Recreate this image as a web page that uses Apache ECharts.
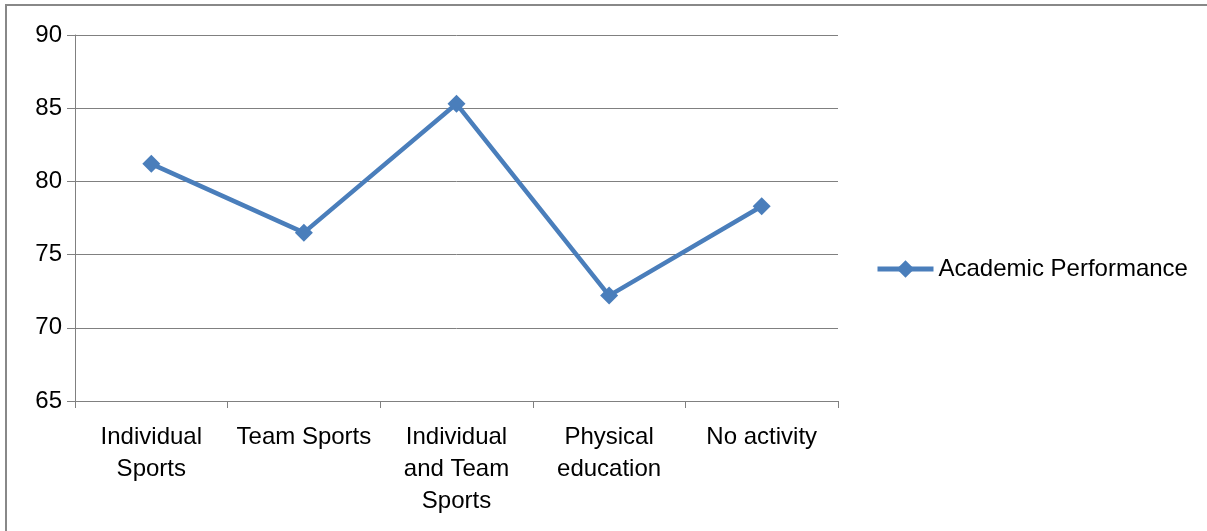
<!DOCTYPE html>
<html>
<head>
<meta charset="utf-8">
<script src="https://cdn.jsdelivr.net/npm/echarts@6/dist/echarts.min.js"></script>
<style>
html,body{margin:0;padding:0;background:#fff;overflow:hidden;}
#frame{position:absolute;left:5px;top:4px;width:1220px;height:560px;border-top:2px solid #888;border-left:2px solid #888;box-sizing:border-box;pointer-events:none;z-index:2;}
#chart{position:absolute;left:0;top:0;width:1207px;height:531px;}
</style>
</head>
<body>
<div id="chart"></div>
<div id="frame"></div>
<script>
const categories = ["Individual\nSports", "Team Sports", "Individual\nand Team\nSports", "Physical\neducation", "No activity"];
const seriesName = "Academic Performance";
const values = [81.2, 76.5, 85.3, 72.2, 78.3];
const yTicks = { min: 65, max: 90, interval: 5 };

const FONT = "'Liberation Sans', Arial, sans-serif";
const chart = echarts.init(document.getElementById('chart'), null, { renderer: 'canvas' });
chart.setOption({
  animation: false,
  backgroundColor: '#ffffff',
  grid: { left: 75, top: 35, right: 369, bottom: 130, containLabel: false },
  legend: {
    orient: 'vertical',
    left: 875,
    top: 257,
    padding: 0,
    itemWidth: 56,
    itemHeight: 22,
    itemGap: 5,
    lineStyle: { width: 5, color: '#4A7EBB' },
    itemStyle: { color: '#4A7EBB' },
    textStyle: { fontFamily: FONT, fontSize: 24, color: '#000', padding: [0, 0, 0, 0] },
    data: [seriesName]
  },
  xAxis: {
    type: 'category',
    data: categories,
    boundaryGap: true,
    axisLine: { show: true, lineStyle: { color: '#808080', width: 1 } },
    axisTick: { show: true, length: 7, lineStyle: { color: '#808080', width: 1 } },
    axisLabel: {
      interval: 0,
      margin: 20,
      fontFamily: FONT,
      fontSize: 24,
      lineHeight: 32,
      color: '#000',
      align: 'center',
      verticalAlign: 'top'
    },
    splitLine: { show: false }
  },
  yAxis: {
    type: 'value',
    min: yTicks.min,
    max: yTicks.max,
    interval: yTicks.interval,
    axisLine: { show: true, lineStyle: { color: '#808080', width: 1 } },
    axisTick: { show: true, length: 8, inside: false, lineStyle: { color: '#808080', width: 1 } },
    axisLabel: { margin: 13, fontFamily: FONT, fontSize: 24, color: '#000' },
    splitLine: { show: true, lineStyle: { color: '#808080', width: 1 } }
  },
  series: [{
    name: seriesName,
    type: 'line',
    data: values,
    symbol: 'diamond',
    symbolSize: 18,
    showAllSymbol: true,
    lineStyle: { color: '#4A7EBB', width: 4.5 },
    itemStyle: { color: '#4A7EBB', borderColor: '#4A7EBB', borderWidth: 0 }
  }]
});
</script>
</body>
</html>
